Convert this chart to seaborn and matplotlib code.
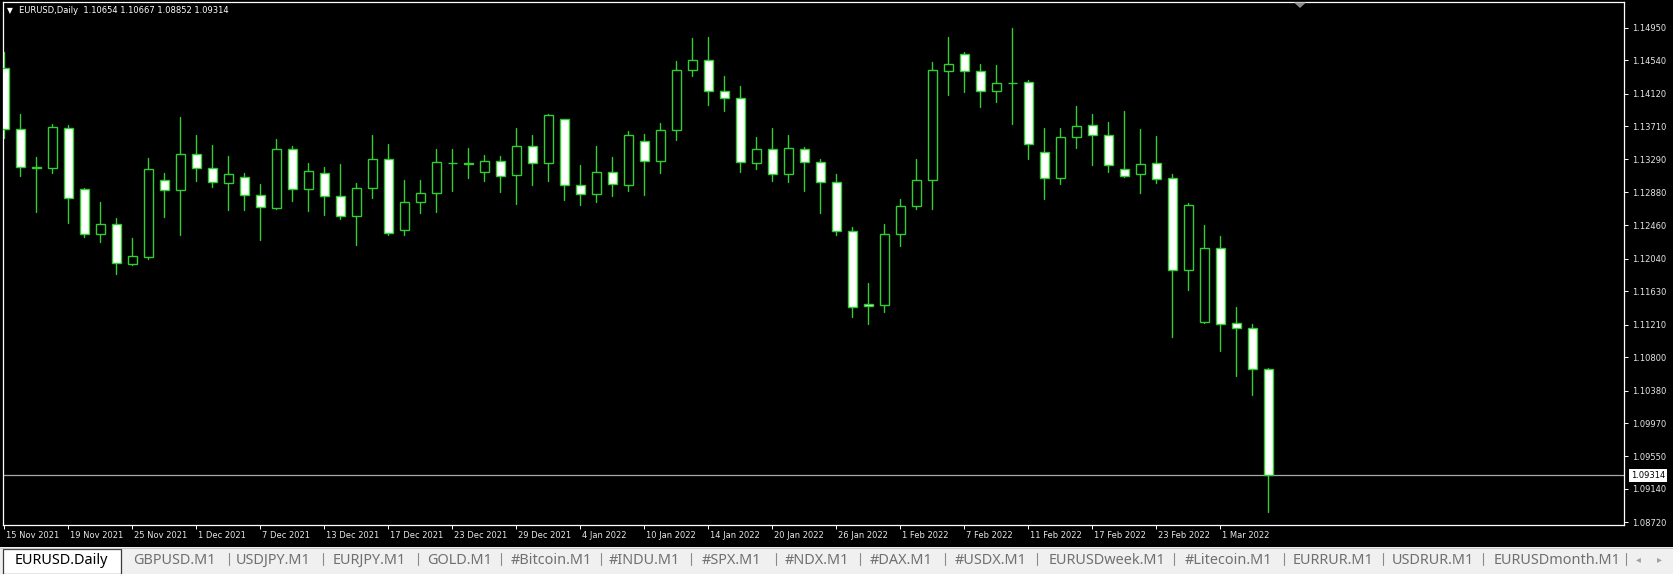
import numpy as np
import pandas as pd
import matplotlib
matplotlib.use("Agg")
import matplotlib.pyplot as plt
import seaborn as sns
from matplotlib.patches import Rectangle, Polygon
from matplotlib.transforms import blended_transform_factory, ScaledTranslation

# EURUSD daily bars, 15 Nov 2021 .. 4 Mar 2022
opens = [1.14438, 1.13669, 1.13191, 1.13178, 1.13682, 1.12922, 1.12346, 1.12472, 1.11968, 1.12065,
         1.13035, 1.12901, 1.13354, 1.13178, 1.12989, 1.13065, 1.12838, 1.12674, 1.13417, 1.12913,
         1.13115, 1.12825, 1.12573, 1.12926, 1.13291, 1.12397, 1.12750, 1.12863, 1.13249, 1.13245,
         1.13136, 1.13266, 1.13090, 1.13455, 1.13241, 1.13795, 1.12964, 1.12850, 1.13128, 1.12964,
         1.13518, 1.13266, 1.13657, 1.14413, 1.14539, 1.14148, 1.14060, 1.13241, 1.13417, 1.13102,
         1.13417, 1.13254, 1.13002, 1.12384, 1.11464, 1.11452, 1.12346, 1.12699, 1.13027, 1.14400,
         1.14614, 1.14400, 1.14148, 1.14257, 1.14262, 1.13380, 1.13052, 1.13569, 1.13720, 1.13594,
         1.13165, 1.13102, 1.13241, 1.13052, 1.11893, 1.11238, 1.12170, 1.11225, 1.11162, 1.10654]
highs = [1.14640, 1.13858, 1.13321, 1.13737, 1.13720, 1.12926, 1.12750, 1.12548, 1.12296, 1.13304,
         1.13115, 1.13821, 1.13594, 1.13468, 1.13329, 1.13115, 1.12981, 1.13548, 1.13455, 1.13241,
         1.13191, 1.13228, 1.12989, 1.13594, 1.13480, 1.13027, 1.13027, 1.13417, 1.13417, 1.13430,
         1.13342, 1.13329, 1.13682, 1.13594, 1.13858, 1.13800, 1.13216, 1.13455, 1.13317, 1.13644,
         1.13606, 1.13745, 1.14526, 1.14816, 1.14829, 1.14337, 1.14211, 1.13569, 1.13682, 1.13594,
         1.13443, 1.13291, 1.13102, 1.12435, 1.11729, 1.12472, 1.12787, 1.13291, 1.14514, 1.14829,
         1.14640, 1.14488, 1.14476, 1.14942, 1.14287, 1.13682, 1.13682, 1.13959, 1.13858, 1.13758,
         1.13896, 1.13669, 1.13581, 1.13102, 1.12737, 1.12460, 1.12321, 1.11427, 1.11212, 1.10667]
lows = [1.13556, 1.13086, 1.12632, 1.13123, 1.12493, 1.12309, 1.12254, 1.11851, 1.11964, 1.12040,
        1.12569, 1.12342, 1.13023, 1.12947, 1.12657, 1.12657, 1.12271, 1.12661, 1.12771, 1.12645,
        1.12594, 1.12535, 1.12216, 1.12808, 1.12334, 1.12342, 1.12611, 1.12632, 1.12892, 1.13060,
        1.13023, 1.12884, 1.12733, 1.12972, 1.13023, 1.12783, 1.12720, 1.12758, 1.12834, 1.12897,
        1.12846, 1.13123, 1.13539, 1.14346, 1.13980, 1.13905, 1.13136, 1.13174, 1.13023, 1.13010,
        1.12897, 1.12619, 1.12342, 1.11309, 1.11212, 1.11372, 1.12204, 1.12661, 1.12670, 1.14106,
        1.14144, 1.13955, 1.14018, 1.13741, 1.13291, 1.12796, 1.12985, 1.13438, 1.13224, 1.13136,
        1.13065, 1.12871, 1.12997, 1.11057, 1.11649, 1.11234, 1.10881, 1.10566, 1.10326, 1.08852]
closes = [1.13669, 1.13191, 1.13182, 1.13695, 1.12800, 1.12346, 1.12472, 1.11981, 1.12069, 1.13165,
          1.12901, 1.13354, 1.13178, 1.13002, 1.13102, 1.12838, 1.12687, 1.13417, 1.12913, 1.13140,
          1.12825, 1.12573, 1.12926, 1.13291, 1.12359, 1.12750, 1.12863, 1.13254, 1.13250, 1.13233,
          1.13266, 1.13077, 1.13455, 1.13241, 1.13846, 1.12964, 1.12850, 1.13128, 1.12976, 1.13594,
          1.13266, 1.13657, 1.14413, 1.14539, 1.14148, 1.14060, 1.13254, 1.13417, 1.13102, 1.13430,
          1.13254, 1.13002, 1.12384, 1.11427, 1.11439, 1.12346, 1.12699, 1.13027, 1.14413, 1.14488,
          1.14400, 1.14148, 1.14249, 1.14258, 1.13480, 1.13052, 1.13569, 1.13707, 1.13594, 1.13216,
          1.13077, 1.13228, 1.13039, 1.11893, 1.12712, 1.12170, 1.11212, 1.11162, 1.10650, 1.09314]

date_labels = ["15 Nov 2021", "19 Nov 2021", "25 Nov 2021", "1 Dec 2021", "7 Dec 2021",
               "13 Dec 2021", "17 Dec 2021", "23 Dec 2021", "29 Dec 2021", "4 Jan 2022",
               "10 Jan 2022", "14 Jan 2022", "20 Jan 2022", "26 Jan 2022", "1 Feb 2022",
               "7 Feb 2022", "11 Feb 2022", "17 Feb 2022", "23 Feb 2022", "1 Mar 2022"]
price_ticks = [1.14950, 1.14540, 1.14120, 1.13710, 1.13290, 1.12880, 1.12460, 1.12040,
               1.11630, 1.11210, 1.10800, 1.10380, 1.09970, 1.09550, 1.09140, 1.08720]
tab_names = ["EURUSD.Daily", "GBPUSD.M1", "USDJPY.M1", "EURJPY.M1", "GOLD.M1", "#Bitcoin.M1",
             "#INDU.M1", "#SPX.M1", "#NDX.M1", "#DAX.M1", "#USDX.M1", "EURUSDweek.M1",
             "#Litecoin.M1", "EURRUR.M1", "USDRUR.M1", "EURUSDmonth.M1"]

df = pd.DataFrame({"open": opens, "high": highs, "low": lows, "close": closes})
df["bar"] = np.arange(len(df))

# --- style ---
sns.set_theme(style="dark", rc={"axes.facecolor": "black", "figure.facecolor": "black",
                                "axes.edgecolor": "white", "axes.grid": False})
plt.rcParams["font.family"] = ["DejaVu Sans"]

GREEN = "#32cd32"
W, H = 1673, 574
fig = plt.figure(figsize=(W / 100, H / 100), dpi=100)
fig.patch.set_facecolor("black")

# plot frame in pixels: left 2.5, right 1624, top 2.3, bottom 525
ax = fig.add_axes([2.5 / W, (H - 525) / H, (1624 - 2.5) / W, (525 - 2.3) / H])
ax.set_facecolor("black")

# wicks (one short line per bar, drawn by seaborn)
wicks = pd.concat([df[["bar", "low"]].rename(columns={"low": "price"}),
                   df[["bar", "high"]].rename(columns={"high": "price"})])
sns.lineplot(data=wicks, x="bar", y="price", units="bar", estimator=None,
             color=GREEN, lw=1.0, ax=ax, legend=False, zorder=2)

# bodies: bull = black, bear = white
bull = df["close"] >= df["open"]
fills = np.where(bull, "black", "white")
ax.bar(df["bar"], df["close"] - df["open"], bottom=df["open"], width=0.58,
       color=fills, edgecolor=GREEN, linewidth=1.0, zorder=3)

# last price line
last = closes[-1]
ax.axhline(last, color="#a8a8a8", lw=0.9, zorder=1)

ax.set_xlim(-0.1125, -0.1125 + (1624 - 2.5) / 16)
ax.set_ylim(1.08686, 1.15270)
ax.set_xlabel("")
ax.set_ylabel("")

for s in ax.spines.values():
    s.set_color("white")
    s.set_linewidth(0.9)

# right price scale
ax.yaxis.tick_right()
ax.set_yticks(price_ticks)
ax.set_yticklabels([f"{p:.5f}" for p in price_ticks])
ax.tick_params(axis="y", colors="white", length=3, width=0.7, pad=2.5,
               labelsize=6, labelcolor="#e6e6e6", right=True, left=False)

# date scale: tick every 4 bars, label to the right of the tick
tick_pos = np.arange(0, len(df), 4)
ax.set_xticks(tick_pos)
ax.set_xticklabels([""] * len(tick_pos))
ax.tick_params(axis="x", colors="white", length=3, width=0.7, bottom=True)
trans = blended_transform_factory(ax.transData, ax.transAxes)
off = ScaledTranslation(2 / 100, -10 / 100, fig.dpi_scale_trans)
for p, lab in zip(tick_pos, date_labels):
    ax.text(p, 0, lab, transform=trans + off, ha="left", va="center",
            fontsize=6, color="#e6e6e6")

# price label box on the scale
ax.annotate(f"{last:.5f}", xy=(1, last), xycoords=("axes fraction", "data"),
            xytext=(7, 0), textcoords="offset pixels", ha="left", va="center",
            fontsize=6, color="black", annotation_clip=False,
            bbox=dict(boxstyle="square,pad=0.25", fc="white", ec="none"))

# overlay in pixel coordinates for header and terminal tabs
ov = fig.add_axes([0, 0, 1, 1], zorder=5)
ov.set_xlim(0, W)
ov.set_ylim(H, 0)
ov.axis("off")
ov.patch.set_alpha(0)

ov.text(10, 10.5, "\u25bc", color="white", fontsize=5.5, ha="center", va="center")
ov.text(19, 10.7, "EURUSD,Daily  1.10654 1.10667 1.08852 1.09314",
        color="white", fontsize=6, ha="left", va="center")
ov.add_patch(Polygon([[1294, 2.5], [1306, 2.5], [1300, 8]], closed=True,
                     fc="#8c8c8c", ec="none"))

# tab bar
ov.add_patch(Rectangle((0, 547), W, 27, fc="#f0f0f0", ec="none"))
ov.plot([0, W], [547.5, 547.5], color="#c8c8c8", lw=0.8)
ov.add_patch(Rectangle((3, 549), 118, 24.5, fc="white", ec="#3a3a3a", lw=0.9))
tab_x = [15, 133, 236, 333, 427, 511, 609, 702, 785, 870, 955, 1049, 1185, 1293, 1392, 1494]
sep_x = [229, 323, 418, 501, 601, 691, 776, 860, 945, 1037, 1174, 1284, 1383, 1483, 1626]
for i, (name, x) in enumerate(zip(tab_names, tab_x)):
    ov.text(x, 560, name, fontsize=10.4, ha="left", va="center",
            color="black" if i == 0 else "#707070", family=["Noto Sans", "DejaVu Sans"])
for x in sep_x:
    ov.plot([x, x], [553, 565], color="#8a8a8a", lw=0.8)
ov.text(1638, 559, "\u25c2", fontsize=7, color="#a0a0a0", ha="center", va="center")
ov.text(1659, 559, "\u25b8", fontsize=7, color="#a0a0a0", ha="center", va="center")

fig.savefig("out.png", dpi=100, facecolor="black")
